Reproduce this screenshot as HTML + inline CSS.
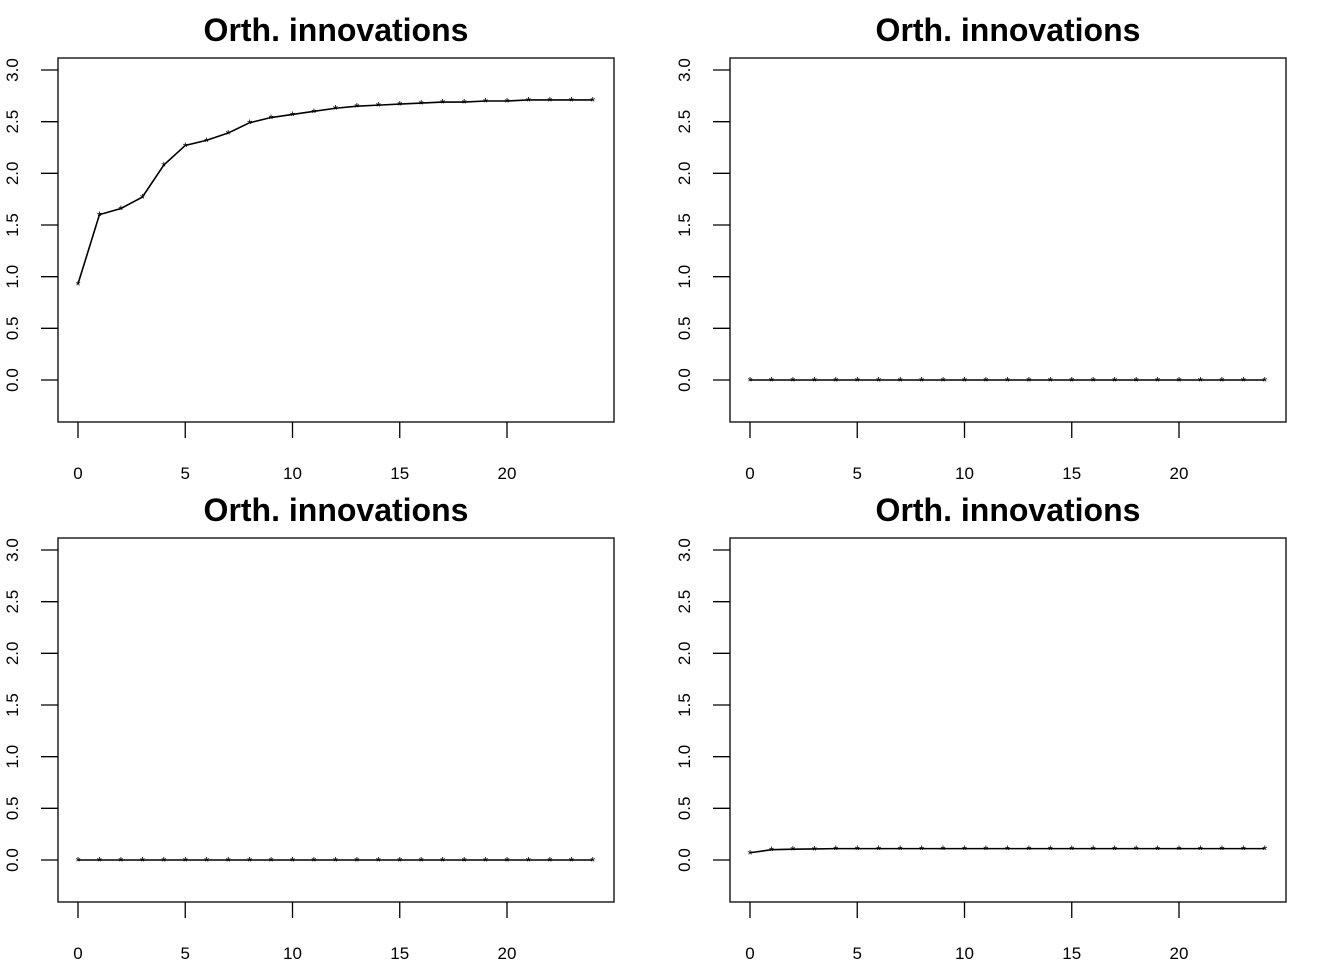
<!DOCTYPE html>
<html><head><meta charset="utf-8"><style>
body{margin:0;background:#fff}
svg{font-family:"Liberation Sans",Arial,sans-serif}
</style></head><body>
<svg id="c" width="1344" height="960" xmlns="http://www.w3.org/2000/svg"></svg>
<script>
const steps=[0,1,2,3,4,5,6,7,8,9,10,11,12,13,14,15,16,17,18,19,20,21,22,23,24];
const series1=[0.93,1.60,1.66,1.77,2.08,2.27,2.32,2.39,2.49,2.54,2.57,2.60,2.63,2.65,2.66,2.67,2.68,2.69,2.69,2.70,2.70,2.71,2.71,2.71,2.71];
const series2=[0,0,0,0,0,0,0,0,0,0,0,0,0,0,0,0,0,0,0,0,0,0,0,0,0];
const series3=[0,0,0,0,0,0,0,0,0,0,0,0,0,0,0,0,0,0,0,0,0,0,0,0,0];
const series4=[0.07,0.10,0.105,0.107,0.11,0.11,0.11,0.11,0.11,0.11,0.11,0.11,0.11,0.11,0.11,0.11,0.11,0.11,0.11,0.11,0.11,0.11,0.11,0.11,0.11];
const xTicks=[0,5,10,15,20];
const yTicks=[0,0.5,1,1.5,2,2.5,3];
const yTickLabels=["0.0","0.5","1.0","1.5","2.0","2.5","3.0"];
const title="Orth. innovations";
const svg=document.getElementById('c');
const NS="http://www.w3.org/2000/svg";
function el(t,a,p){const e=document.createElementNS(NS,t);for(const k in a)e.setAttribute(k,a[k]);(p||svg).appendChild(e);return e;}
const panels=[{ox:0,oy:0,d:series1},{ox:672,oy:0,d:series2},{ox:0,oy:480,d:series3},{ox:672,oy:480,d:series4}];
panels.forEach((p,i)=>{
  const g=el('g',{});
  
  
  const X=v=>p.ox+78+v*(507-78)/20;
  const Y=v=>p.oy+380-v*(380-70)/3;
  const box=el('rect',{x:p.ox+58,y:p.oy+58,width:556,height:364,fill:'none',stroke:'#000','stroke-width':1.3},g);
  
  
  const t=el('text',{x:p.ox+336,y:p.oy+41,'text-anchor':'middle','font-size':32,'font-weight':'bold'},g);
  t.textContent=title;
  
  
  xTicks.forEach(v=>{
    el('line',{x1:X(v),x2:X(v),y1:p.oy+422,y2:p.oy+438,stroke:'#000','stroke-width':1.3},g);
    const l=el('text',{x:X(v),y:p.oy+479,'text-anchor':'middle','font-size':17},g);
    l.textContent=v;
    
    
  });
  yTicks.forEach((v,j)=>{
    el('line',{x1:p.ox+41,x2:p.ox+58,y1:Y(v),y2:Y(v),stroke:'#000','stroke-width':1.3},g);
    const l=el('text',{x:0,y:0,'text-anchor':'middle','font-size':17,transform:`translate(${p.ox+18},${Y(v)}) rotate(-90)`},g);
    l.textContent=yTickLabels[j];
    
    
  });
  const line=el('polyline',{points:steps.map((s,k)=>X(s)+','+Y(p.d[k])).join(' '),fill:'none',stroke:'#000','stroke-width':1.6},g);
  
  
  steps.forEach((s,k)=>{
    const m=el('text',{x:X(s),y:Y(p.d[k])+6,'text-anchor':'middle','font-size':13},g);
    m.textContent='*';
    
    
  });
});
</script>
</body></html>
